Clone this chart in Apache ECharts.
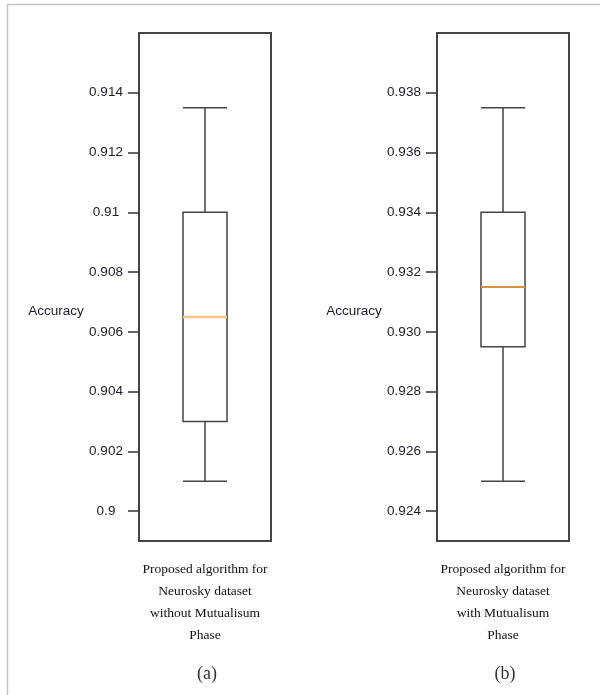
<!DOCTYPE html>
<html>
<head>
<meta charset="utf-8">
<script src="https://cdn.jsdelivr.net/npm/echarts@6/dist/echarts.min.js"></script>
<style>
  html, body { margin: 0; padding: 0; background: #fff; }
  #chart { width: 600px; height: 695px; }
</style>
</head>
<body>
<div id="chart"></div>
<script>
// Category captions under each panel
const categoryA = ['Proposed algorithm for\nNeurosky dataset\nwithout Mutualisum\nPhase'];
const categoryB = ['Proposed algorithm for\nNeurosky dataset\nwith Mutualisum\nPhase'];

// Box statistics: [lower whisker, Q1, median, Q3, upper whisker]
const statsA = [0.901, 0.903, 0.9065, 0.910, 0.9135];
const statsB = [0.925, 0.9295, 0.9315, 0.934, 0.9375];

// Y tick values and their printed labels
const ticksA = [0.9, 0.902, 0.904, 0.906, 0.908, 0.91, 0.912, 0.914];
const tickLabelsA = ['0.9', '0.902', '0.904', '0.906', '0.908', '0.91', '0.912', '0.914'];
const ticksB = [0.924, 0.926, 0.928, 0.930, 0.932, 0.934, 0.936, 0.938];
const tickLabelsB = ['0.924', '0.926', '0.928', '0.930', '0.932', '0.934', '0.936', '0.938'];

// Axis extents
const rangeA = [0.899, 0.916];
const rangeB = [0.923, 0.940];

const panelTags = ['(a)', '(b)'];
const yName = 'Accuracy';

const sansFont = '"Liberation Sans", Arial, sans-serif';
const serifFont = '"Liberation Serif", "Times New Roman", serif';
const inkColor = '#1c1c28';
const lineColor = '#444';

function labelFor(values, labels) {
  return function (v) {
    const i = values.findIndex(t => Math.abs(t - v) < 1e-9);
    return i >= 0 ? labels[i] : '';
  };
}

function makeY(idx, range, ticks, labels) {
  return {
    type: 'value',
    gridIndex: idx,
    min: range[0],
    max: range[1],
    splitLine: { show: false },
    axisLine: { show: false },
    axisTick: {
      show: true, length: 11, customValues: ticks,
      lineStyle: { color: '#333', width: 1.5 }
    },
    axisLabel: {
      customValues: ticks,
      formatter: labelFor(ticks, labels),
      align: 'center',
      margin: 33,
      fontFamily: sansFont,
      fontSize: 13.5,
      color: inkColor
    },
    // the blank first line pushes the axis title a little below the middle
    name: '\n' + yName,
    nameLocation: 'middle',
    nameRotate: 0,
    nameGap: 83,
    nameTextStyle: {
      fontFamily: sansFont,
      fontSize: 13.5,
      lineHeight: 48,
      color: inkColor,
      align: 'center',
      verticalAlign: 'middle'
    }
  };
}

function makeX(idx, cats) {
  return {
    type: 'category',
    gridIndex: idx,
    data: cats,
    axisLine: { show: false },
    axisTick: { show: false },
    axisLabel: {
      margin: 17,
      fontFamily: serifFont,
      fontSize: 13.5,
      lineHeight: 22,
      color: '#111'
    }
  };
}

function medianLine(color, width) {
  return function (params, api) {
    const c = api.coord([api.value(0), api.value(1)]);
    return {
      type: 'line',
      shape: { x1: c[0] - 22, y1: c[1], x2: c[0] + 22, y2: c[1] },
      style: { stroke: color, lineWidth: width }
    };
  };
}

const chart = echarts.init(document.getElementById('chart'), null, { renderer: 'canvas' });

chart.setOption({
  animation: false,
  backgroundColor: '#fff',
  grid: [
    { left: 139, right: 329, top: 33, bottom: 154, show: true, borderColor: lineColor, borderWidth: 2, backgroundColor: 'transparent' },
    { left: 437, right: 31, top: 33, bottom: 154, show: true, borderColor: lineColor, borderWidth: 2, backgroundColor: 'transparent' }
  ],
  xAxis: [makeX(0, categoryA), makeX(1, categoryB)],
  yAxis: [
    makeY(0, rangeA, ticksA, tickLabelsA),
    makeY(1, rangeB, ticksB, tickLabelsB)
  ],
  title: [
    { text: panelTags[0], left: 202, top: 660, textAlign: 'center',
      textStyle: { fontFamily: serifFont, fontSize: 18, fontWeight: 'normal', color: '#333' } },
    { text: panelTags[1], left: 500, top: 660, textAlign: 'center',
      textStyle: { fontFamily: serifFont, fontSize: 18, fontWeight: 'normal', color: '#333' } }
  ],
  graphic: [
    { type: 'line', shape: { x1: 7, y1: 4.5, x2: 600, y2: 4.5 }, style: { stroke: '#c4c4c4', lineWidth: 1.5 }, silent: true },
    { type: 'line', shape: { x1: 7.5, y1: 4, x2: 7.5, y2: 695 }, style: { stroke: '#c4c4c4', lineWidth: 1.5 }, silent: true }
  ],
  series: [
    {
      type: 'boxplot', xAxisIndex: 0, yAxisIndex: 0,
      boxWidth: [44, 44],
      itemStyle: { color: '#fff', borderColor: lineColor, borderWidth: 1.5 },
      data: [statsA]
    },
    {
      type: 'boxplot', xAxisIndex: 1, yAxisIndex: 1,
      boxWidth: [44, 44],
      itemStyle: { color: '#fff', borderColor: lineColor, borderWidth: 1.5 },
      data: [statsB]
    },
    {
      type: 'custom', xAxisIndex: 0, yAxisIndex: 0, z: 10,
      renderItem: medianLine('#ffc58a', 2.5),
      data: [[0, statsA[2]]]
    },
    {
      type: 'custom', xAxisIndex: 1, yAxisIndex: 1, z: 10,
      renderItem: medianLine('#ff9c33', 1.5),
      data: [[0, statsB[2]]]
    }
  ]
});
</script>
</body>
</html>
